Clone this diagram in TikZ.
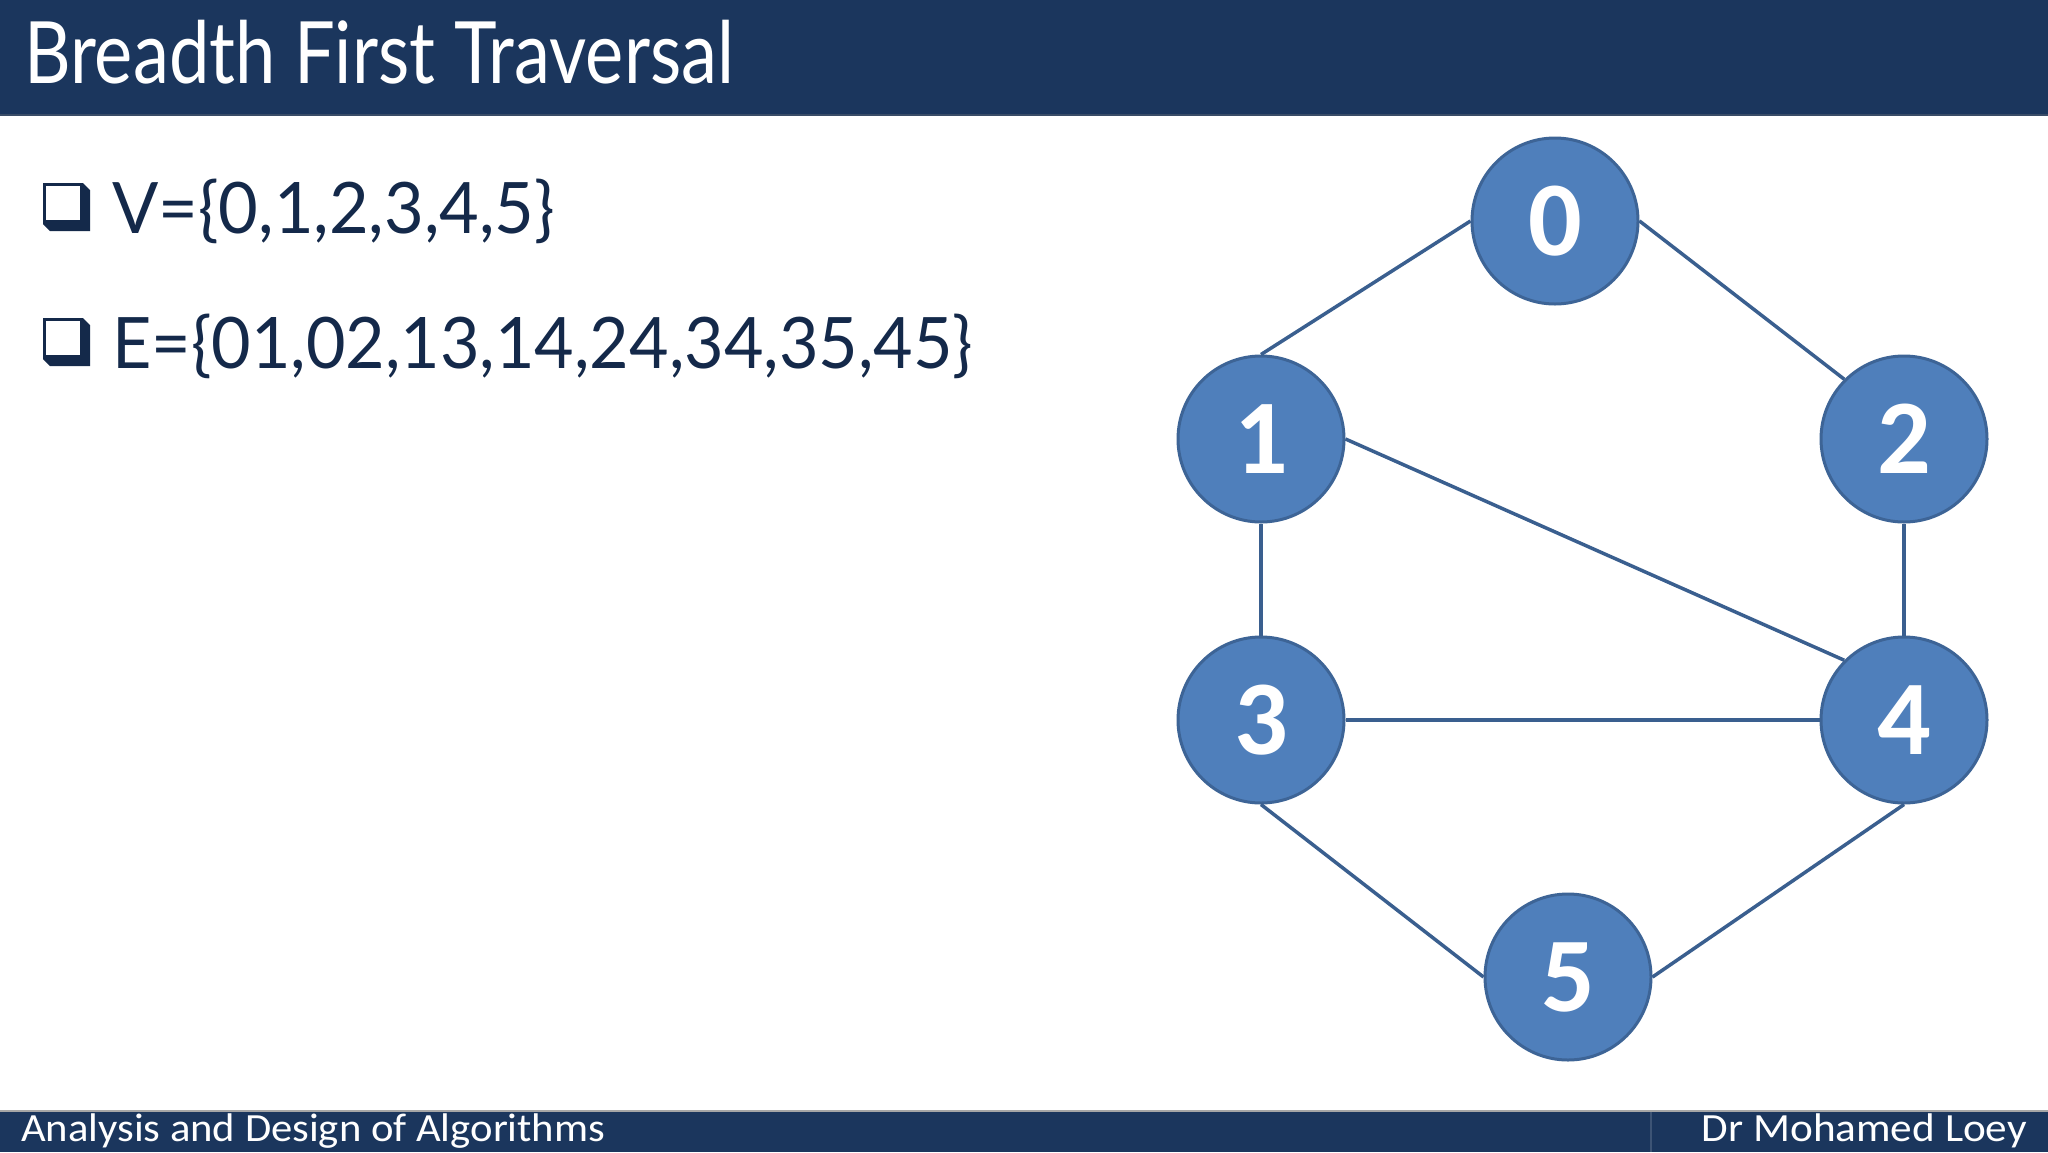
\documentclass[tikz,border=0pt]{standalone}
\usepackage{fontspec}
\usepackage{graphicx}
\setmainfont{Carlito}
\newfontfamily\ttlfont{Lato}
\newfontfamily\calfont{Carlito}
\definecolor{navy}{HTML}{1B365D}
\definecolor{txtnavy}{HTML}{14294A}
\definecolor{nodefill}{HTML}{4F7FBB}
\definecolor{nodeline}{HTML}{3D6496}
\definecolor{edgecol}{HTML}{3A5F8F}
\begin{document}
\begin{tikzpicture}[x=1pt,y=-1pt,
  vertex/.style={circle,fill=nodefill,draw=nodeline,line width=3pt,minimum size=166pt,inner sep=0pt,
    text=white,font=\calfont\fontsize{106}{106}\selectfont\bfseries},
  edge/.style={draw=edgecol,line width=3.5pt},
  bullettext/.style={anchor=base west,inner sep=0pt,text=txtnavy},
  foottext/.style={inner sep=0pt,text=white,font=\calfont\fontsize{40}{40}\selectfont}]
\useasboundingbox (0,0) rectangle (2048,1152);
\fill[white] (0,0) rectangle (2048,1152);
% header
\fill[navy] (0,0) rectangle (2048,115);
\draw[color=navy!70!gray,line width=2pt] (0,115) -- (2048,115);
\node[anchor=base west,inner sep=0pt,text=white] (title) at (24,83)
  {\resizebox{710pt}{\height}{\ttlfont\fontsize{86}{86}\selectfont Breadth First Traversal}};
% bullets
\foreach \dy/\nm in {0/bv,135/be}{
  \fill[txtnavy] (43,183+\dy) -- (83,183+\dy) -- (90,190+\dy) -- (90,231+\dy) -- (50,231+\dy) -- (43,224+\dy) -- cycle;
  \fill[white] (46,186+\dy) rectangle (80,220+\dy);
}
\node[bullettext] (vset) at (112,233)
  {\resizebox{443pt}{\height}{\ttlfont\fontsize{71}{71}\selectfont V=\{0,1,2,3,4,5\}}};
\node[bullettext] (eset) at (112,368)
  {\resizebox{861pt}{\height}{\ttlfont\fontsize{71}{71}\selectfont E=\{01,02,13,14,24,34,35,45\}}};
% graph
\node[vertex] (n0) at (1555,221) {0};
\node[vertex] (n1) at (1261,439) {1};
\node[vertex] (n2) at (1904,439) {2};
\node[vertex] (n3) at (1261,720) {3};
\node[vertex] (n4) at (1904,720) {4};
\node[vertex] (n5) at (1568,977) {5};
\draw[edge] (n0.west) -- (n1.north);
\draw[edge] (n0.east) -- (n2.north west);
\draw[edge] (n1.east) -- (n4.north west);
\draw[edge] (n1.south) -- (n3.north);
\draw[edge] (n2.south) -- (n4.north);
\draw[edge] (n3.east) -- (n4.west);
\draw[edge] (n3.south) -- (n5.west);
\draw[edge] (n4.south) -- (n5.east);
% footer
\fill[navy] (0,1111) rectangle (2048,1152);
\draw[color=gray!70,line width=2pt] (0,1111) -- (2048,1111);
\draw[color=navy!85!white,line width=2pt] (1651,1112) -- (1651,1152);
\node[foottext,anchor=base west] (fl) at (21,1141) {\resizebox{584pt}{\height}{Analysis and Design of Algorithms}};
\node[foottext,anchor=base east] (fr) at (2027,1141) {\resizebox{325pt}{\height}{Dr Mohamed Loey}};
\end{tikzpicture}
\end{document}
